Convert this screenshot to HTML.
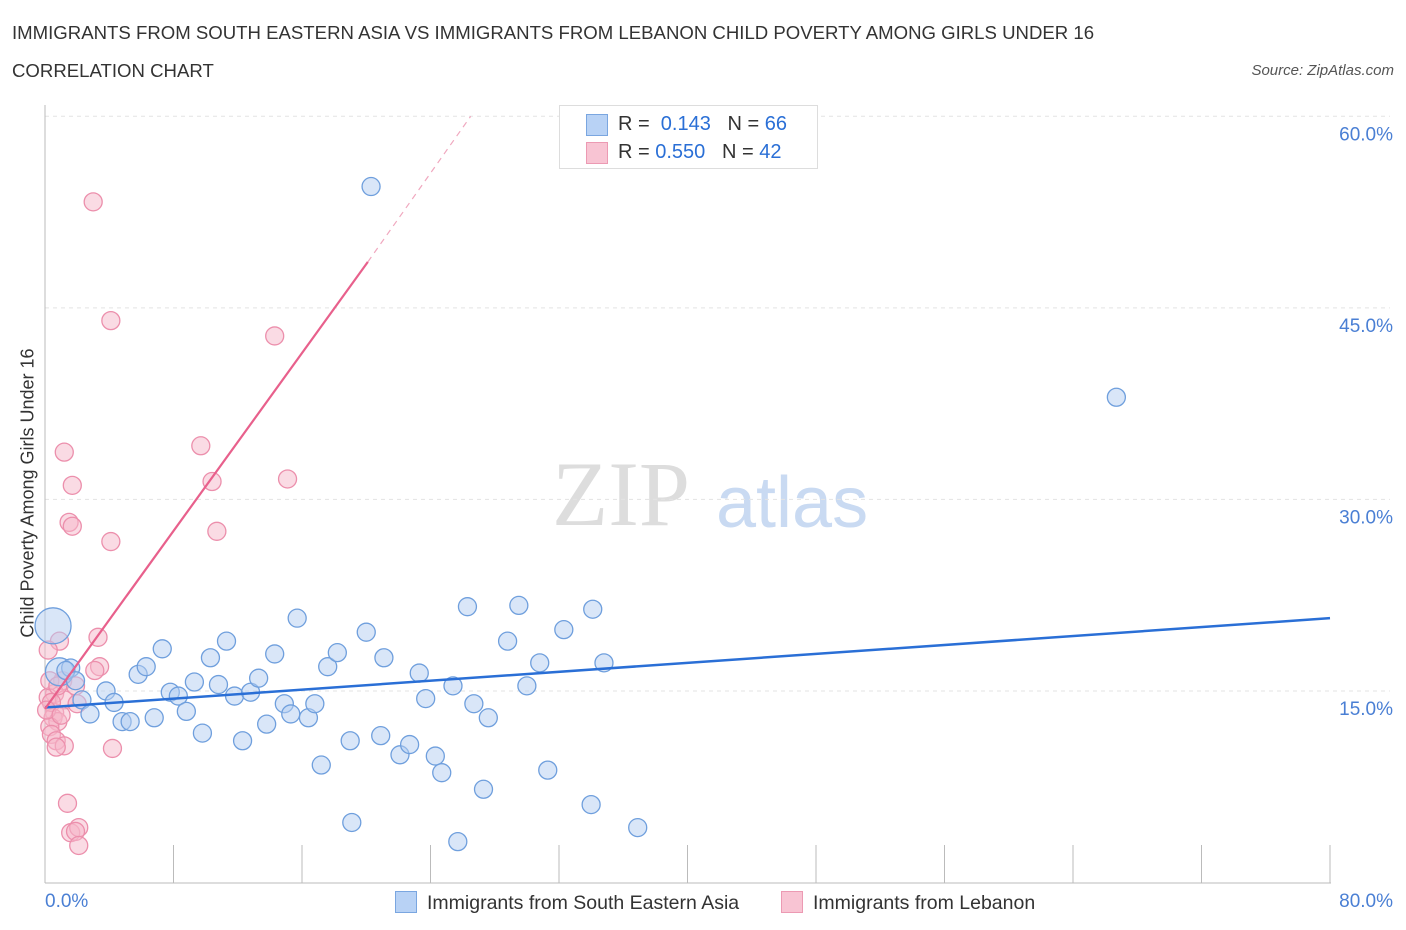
<!DOCTYPE html>
<html><head><meta charset="utf-8"><style>
body{margin:0;background:#fff;font-family:"Liberation Sans",sans-serif;}
#wrap{position:relative;width:1406px;height:930px;overflow:hidden;}
.t{position:absolute;white-space:nowrap;}
</style></head><body>
<div id="wrap">
<div class="t" style="left:12px;top:22px;font-size:18.6px;color:#333;">IMMIGRANTS FROM SOUTH EASTERN ASIA VS IMMIGRANTS FROM LEBANON CHILD POVERTY AMONG GIRLS UNDER 16</div>
<div class="t" style="left:12px;top:60px;font-size:18.6px;color:#333;">CORRELATION CHART</div>
<div class="t" style="right:12px;top:62px;font-size:15px;color:#555;font-style:italic;">Source: ZipAtlas.com</div>
<svg id="svg" width="1406" height="930" style="position:absolute;left:0;top:0"></svg>
</div>
<script>
const yTicks=[15,30,45,60];
const yTickLabels=["15.0%","30.0%","45.0%","60.0%"];
const blueX=[20.3,66.7,0.5,0.9,1.6,2.3,2.8,3.8,4.3,4.8,5.3,5.8,6.3,6.8,7.3,7.8,8.3,8.8,9.3,9.8,10.3,10.8,11.3,11.8,12.3,12.8,13.3,13.8,14.3,14.9,15.3,15.7,16.4,16.8,17.2,17.6,18.2,19.0,19.1,20.0,20.9,21.1,22.1,22.7,23.3,23.7,24.3,24.7,25.4,25.7,26.3,26.7,27.3,27.6,28.8,29.5,30.0,30.8,31.3,32.3,34.0,34.1,34.8,36.9,1.3,1.9];
const blueY=[54.5,38.0,20.1,16.5,16.8,14.3,13.2,15.0,14.1,12.6,12.6,16.3,16.9,12.9,18.3,14.9,14.6,13.4,15.7,11.7,17.6,15.5,18.9,14.6,11.1,14.9,16.0,12.4,17.9,14.0,13.2,20.7,12.9,14.0,9.2,16.9,18.0,11.1,4.7,19.6,11.5,17.6,10.0,10.8,16.4,14.4,9.9,8.6,15.4,3.2,21.6,14.0,7.3,12.9,18.9,21.7,15.4,17.2,8.8,19.8,6.1,21.4,17.2,4.3,16.6,15.8];
const pinkX=[3.0,4.1,14.3,1.2,9.7,10.4,15.1,1.7,1.5,1.7,4.1,10.7,3.3,0.9,0.2,3.4,3.1,1.1,1.9,0.6,0.2,1.2,2.0,0.6,0.5,0.8,0.3,0.4,0.7,1.2,0.7,4.2,1.4,1.6,2.1,1.9,2.1,0.3,0.8,0.4,0.1,1.0];
const pinkY=[53.3,44.0,42.8,33.7,34.2,31.4,31.6,31.1,28.2,27.9,26.7,27.5,19.2,18.9,18.2,16.9,16.6,15.8,15.4,14.8,14.5,14.3,14.0,13.3,12.9,12.6,12.2,11.6,11.1,10.7,10.6,10.5,6.2,3.9,4.3,4.0,2.9,15.8,15.4,14.1,13.5,13.1];
const blueTrend=[[0,13.7],[80,20.7]];
const pinkTrend=[[0,13.6],[20.1,48.6]];
const pinkDash=[[20.1,48.6],[26.5,60]];
const X0=45,X1=1330,Y0=882.5;
const xs=v=>X0+v*(X1-X0)/80;
const ys=v=>Y0-v*12.77;
const svg=document.getElementById('svg');
const NS='http://www.w3.org/2000/svg';
function mk(tag,at,parent){const e=document.createElementNS(NS,tag);for(const k in at)e.setAttribute(k,at[k]);(parent||svg).appendChild(e);return e;}
let w=mk('text',{x:552,y:525,'font-size':92,'font-family':'Liberation Serif, serif',fill:'#ddd'});w.textContent='ZIP';


w=mk('text',{x:716,y:527,'font-size':72,'font-family':'Liberation Sans, sans-serif',fill:'#c9daf2'});w.textContent='atlas';


yTicks.forEach((t,i)=>{
 const g=mk('line',{x1:X0,x2:1390,y1:ys(t),y2:ys(t),stroke:'#e3e3e3','stroke-dasharray':'4,4'});
 
 
 const l=mk('text',{x:1393,y:ys(t)+24,'text-anchor':'end','font-size':19,fill:'#4a7fd4'});
 l.textContent=yTickLabels[i];
 
 
});
let a=mk('line',{x1:X0,x2:X0,y1:105,y2:883,stroke:'#bbb'});


a=mk('line',{x1:X0,x2:1331,y1:883,y2:883,stroke:'#bbb'});


for(let i=0;i<=10;i++){const t=mk('line',{x1:xs(i*8),x2:xs(i*8),y1:845,y2:883,stroke:'#bbb'});
 
 }
function dot(x,y,r,fill,stroke,name){const c=mk('circle',{cx:xs(x),cy:ys(y),r:r,fill:fill,'fill-opacity':0.5,stroke:stroke,'stroke-width':1.3});
 
 }
pinkX.forEach((x,i)=>dot(x,pinkY[i],9,'#f5b8ca','#ec8fac','pink-point'));
blueX.forEach((x,i)=>dot(x,blueY[i],i==2?18:(i==3?14:9),'#b3cef2','#6f9fdd','blue-point'));
let ln=mk('line',{x1:xs(blueTrend[0][0]),y1:ys(blueTrend[0][1]),x2:xs(blueTrend[1][0]),y2:ys(blueTrend[1][1]),stroke:'#2a6fd6','stroke-width':2.5});


ln=mk('line',{x1:xs(pinkTrend[0][0]),y1:ys(pinkTrend[0][1]),x2:xs(pinkTrend[1][0]),y2:ys(pinkTrend[1][1]),stroke:'#e8608c','stroke-width':2.2});


ln=mk('line',{x1:xs(pinkDash[0][0]),y1:ys(pinkDash[0][1]),x2:xs(pinkDash[1][0]),y2:ys(pinkDash[1][1]),stroke:'#f0a8bf','stroke-width':1.2,'stroke-dasharray':'6,5'});


</script>
<div class="t" style="left:28px;top:493px;font-size:18px;color:#333;transform:translate(-50%,-50%) rotate(-90deg);">Child Poverty Among Girls Under 16</div>
<div class="t" style="left:45px;top:891px;font-size:19px;color:#4a7fd4;">0.0%</div>
<div class="t" style="right:13px;top:891px;font-size:19px;color:#4a7fd4;">80.0%</div>
<div style="position:absolute;left:559px;top:105px;width:257px;height:62px;border:1px solid #ddd;background:#fff;font-size:20px;color:#333;">
 <div style="position:absolute;left:26px;top:8px;width:20px;height:20px;background:#b8d2f5;border:1px solid #7aa6e0;"></div>
 <div class="t" style="left:58px;top:7px;">R = &nbsp;<span style="color:#2a6fd6">0.143</span> &nbsp;&nbsp;N = <span style="color:#2a6fd6">66</span></div>
 <div style="position:absolute;left:26px;top:36px;width:20px;height:20px;background:#f8c4d3;border:1px solid #ec9ab3;"></div>
 <div class="t" style="left:58px;top:35px;">R = <span style="color:#2a6fd6">0.550</span> &nbsp;&nbsp;N = <span style="color:#2a6fd6">42</span></div>
</div>
<div style="position:absolute;left:395px;top:891px;font-size:19.5px;color:#333;">
 <span style="display:inline-block;width:20px;height:20px;background:#b8d2f5;border:1px solid #7aa6e0;vertical-align:-4px;margin-right:10px"></span>Immigrants from South Eastern Asia</div>
<div style="position:absolute;left:781px;top:891px;font-size:19.5px;color:#333;">
 <span style="display:inline-block;width:20px;height:20px;background:#f8c4d3;border:1px solid #ec9ab3;vertical-align:-4px;margin-right:10px"></span>Immigrants from Lebanon</div>
</body></html>
